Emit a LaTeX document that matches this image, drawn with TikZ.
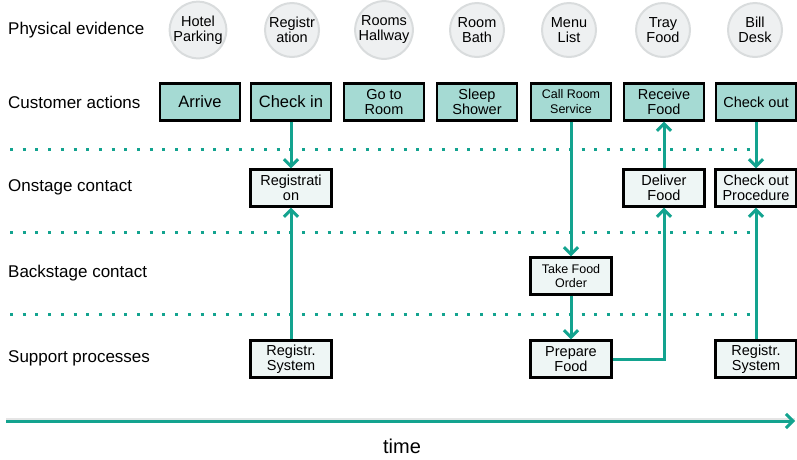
\documentclass[tikz,border=0pt]{standalone}
\usepackage{fontspec}
\setmainfont{Liberation Sans}
\usetikzlibrary{arrows.meta}
\definecolor{teal1}{HTML}{13A38F}
\definecolor{boxfill}{HTML}{A5DAD3}
\definecolor{lightfill}{HTML}{EEF6F5}
\definecolor{circfill}{HTML}{EEF0F1}
\definecolor{circline}{HTML}{D9DCDD}
\tikzset{
  evid/.style={circle, minimum size=54pt, inner sep=0pt, fill=circfill, draw=circline, line width=2pt, align=center, font=\fontsize{14.5}{15}\selectfont},
  actbox/.style={rectangle, minimum width=80pt, minimum height=37pt, inner sep=0pt, draw=black, line width=2.4pt, fill=boxfill, align=center, font=\fontsize{14.5}{15}\selectfont},
  stagebox/.style={rectangle, minimum width=81pt, minimum height=37pt, inner sep=0pt, draw=black, line width=2.4pt, fill=lightfill, align=center, font=\fontsize{14.5}{15}\selectfont},
  rowlabel/.style={anchor=west, inner sep=0pt, font=\fontsize{17}{18}\selectfont},
  flow/.style={draw=teal1, line width=3pt, -{Straight Barb[length=7pt,width=14pt,line width=3pt]}},
  sepline/.style={draw=teal1, line width=3pt, dash pattern=on 3pt off 9.7pt},
}
\begin{document}
\begin{tikzpicture}[x=1pt,y=-1pt]
\useasboundingbox (0,0) rectangle (797,459);
% row labels
\node[rowlabel] (l1) at (8,30) {Physical evidence};
\node[rowlabel] (l2) at (8,102) {Customer actions};
\node[rowlabel] (l3) at (8,187) {Onstage contact};
\node[rowlabel] (l4) at (8,273) {Backstage contact};
\node[rowlabel] (l5) at (8,358) {Support processes};
% separators
\draw[sepline] (10,149) -- (752,149);
\draw[sepline] (10,232) -- (752,232);
\draw[sepline] (10,314) -- (752,314);
% physical evidence
\node[evid] (e1) at (198,30) {Hotel\\Parking};
\node[evid] (e2) at (292,30) {Registr\\ation};
\node[evid] (e3) at (384,30) {Rooms\\Hallway};
\node[evid] (e4) at (477,30) {Room\\Bath};
\node[evid] (e5) at (569,30) {Menu\\List};
\node[evid] (e6) at (663,30) {Tray\\Food};
\node[evid] (e7) at (755,30) {Bill\\Desk};
% customer actions
\node[actbox, font=\fontsize{16.5}{18}\selectfont] (a1) at (200,102) {Arrive};
\node[actbox, font=\fontsize{16.5}{18}\selectfont] (a2) at (291,102) {Check in};
\node[actbox] (a3) at (384,102) {Go to\\Room};
\node[actbox] (a4) at (477,102) {Sleep\\Shower};
\node[actbox, font=\fontsize{12.5}{15}\selectfont] (a5) at (571,102) {Call Room\\Service};
\node[actbox] (a6) at (664,102) {Receive\\Food};
\node[actbox] (a7) at (756,102) {Check out};
% onstage
\node[stagebox] (o1) at (291,188) {Registrati\\on};
\node[stagebox] (o2) at (664,188) {Deliver\\Food};
\node[stagebox] (o3) at (756,188) {Check out\\Procedure};
% backstage
\node[stagebox, font=\fontsize{12.5}{14.5}\selectfont] (b1) at (571,276) {Take Food\\Order};
% support
\node[stagebox] (s1) at (291,359) {Registr.\\System};
\node[stagebox] (s2) at (571,359) {Prepare\\Food};
\node[stagebox] (s3) at (756,359) {Registr.\\System};
% flows
\draw[flow] (a2.south) -- (o1.north);
\draw[flow] (s1.north) -- (o1.south);
\draw[flow] (a5.south) -- (b1.north);
\draw[flow] (b1.south) -- (s2.north);
\draw[flow] (s2.east) -| (o2.south);
\draw[flow] (o2.north) -- (a6.south);
\draw[flow] (a7.south) -- (o3.north);
\draw[flow] (s3.north) -- (o3.south);
% time axis
\coordinate (t0) at (6,421);
\coordinate (t1) at (795,421);
\draw[line width=3pt, draw=black!20, opacity=0.5] ([yshift=2pt]t0) -- ([yshift=2pt]t1);
\draw[flow] (t0) -- (t1);
\node[font=\fontsize{20}{22}\selectfont, inner sep=0pt] (time) at (402,446) {time};
\end{tikzpicture}
\end{document}
